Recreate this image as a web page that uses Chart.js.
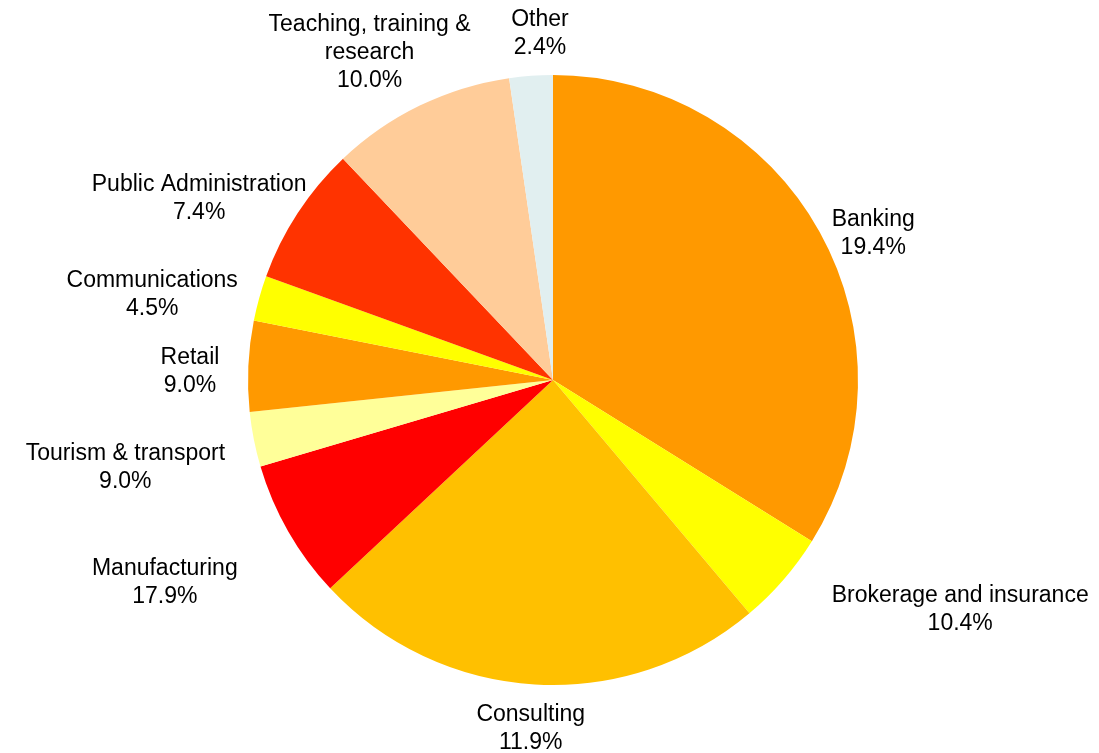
<!DOCTYPE html>
<html>
<head>
<meta charset="utf-8">
<script src="https://cdn.jsdelivr.net/npm/chart.js@4"></script>
<style>
  html, body { margin: 0; padding: 0; background: #fff; }
  #wrap { width: 1099px; height: 753px; position: relative; }
</style>
</head>
<body>
<div id="wrap"><canvas id="chart"></canvas></div>
<script>
const categories = [
  "Banking",
  "Brokerage and insurance",
  "Consulting",
  "Manufacturing",
  "Tourism & transport",
  "Retail",
  "Communications",
  "Public Administration",
  "Teaching, training & research",
  "Other",
]
// slice sizes as drawn
const sliceValues = [33.9, 5.0, 24.2, 7.4, 2.9, 4.8, 2.4, 7.4, 9.8, 2.3]
// percentages printed in the labels
const labelPercents = ["19.4%", "10.4%", "11.9%", "17.9%", "9.0%", "9.0%", "4.5%", "7.4%", "10.0%", "2.4%"]
// label text split over lines
const labelLines = [
  ["Banking"],
  ["Brokerage and insurance"],
  ["Consulting"],
  ["Manufacturing"],
  ["Tourism & transport"],
  ["Retail"],
  ["Communications"],
  ["Public Administration"],
  ["Teaching, training &", "research"],
  ["Other"],
]

const COLORS = ["#FF9900", "#FFFF00", "#FFC000", "#FF0000", "#FFFF99", "#FF9900", "#FFFF00", "#FF3300", "#FFCC99", "#E1EFF0"]
const FONT = "23px 'Liberation Sans', Arial, sans-serif"
const LINE_H = 28
// hand-dragged label offsets (px), as in the original layout
const LABEL_NUDGE = [[5, 22], [69, 2], [0, 2], [-48, 30], [-17, 20], [-15, 7], [-11, 8], [3, 9], [0, -3], [12, 0]]

const outsideLabels = {
  id: "outsideLabels",
  afterDatasetsDraw(chart) {
    const ctx = chart.ctx
    const meta = chart.getDatasetMeta(0)
    ctx.save()
    ctx.font = FONT
    ctx.fillStyle = "#000"
    ctx.textAlign = "center"
    ctx.textBaseline = "middle"
    meta.data.forEach((arc, i) => {
      const { x, y, startAngle, endAngle, outerRadius } = arc.getProps(["x", "y", "startAngle", "endAngle", "outerRadius"], true)
      const mid = (startAngle + endAngle) / 2
      const dx = Math.cos(mid)
      const dy = Math.sin(mid)
      const lines = [...labelLines[i], labelPercents[i]]
      const w = Math.max(...lines.map((l) => ctx.measureText(l).width))
      const h = lines.length * LINE_H
      const r = outerRadius + 14
      const [nx, ny] = LABEL_NUDGE[i]
      const cx = x + r * dx + (w / 2) * dx + nx
      const cy = y + r * dy + (h / 2) * dy + ny
      lines.forEach((l, k) => {
        ctx.fillText(l, cx, cy - h / 2 + LINE_H * (k + 0.5))
      })
    })
    ctx.restore()
  },
}

new Chart(document.getElementById("chart"), {
  type: "pie",
  data: {
    labels: categories,
    datasets: [
      {
        data: sliceValues,
        backgroundColor: COLORS,
        borderWidth: 0,
      },
    ],
  },
  options: {
    responsive: true,
    maintainAspectRatio: false,
    animation: false,
    layout: { padding: { top: 75, bottom: 68, left: 100, right: 93 } },
    plugins: {
      legend: { display: false },
      tooltip: { enabled: false },
    },
  },
  plugins: [outsideLabels],
})
</script>
</body>
</html>
